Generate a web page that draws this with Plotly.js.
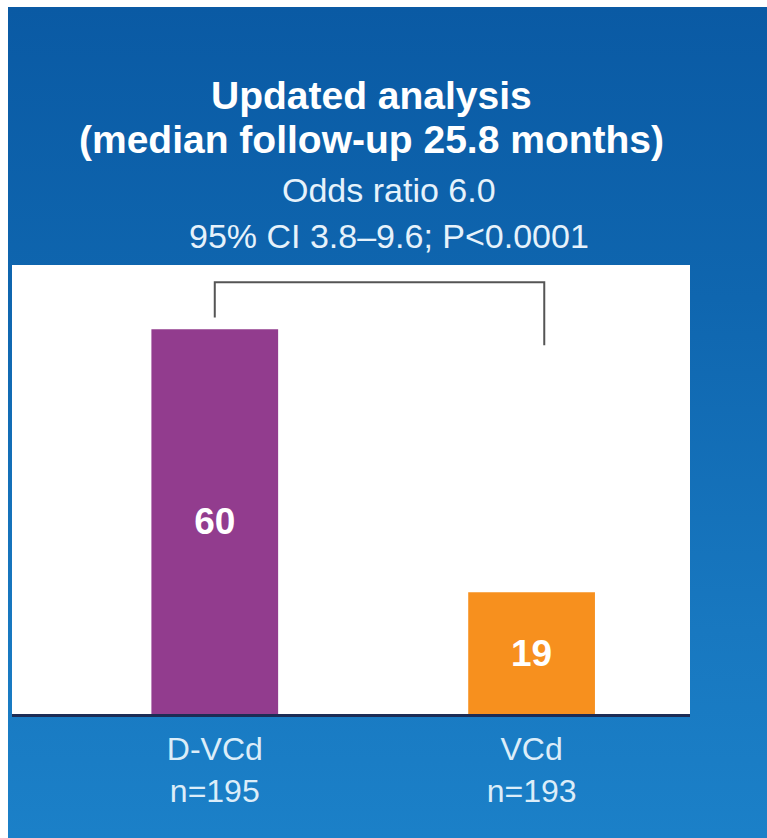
<!DOCTYPE html>
<html>
<head>
<meta charset="utf-8">
<script src="https://cdn.plot.ly/plotly-3.0.1.min.js"></script>
<style>
  html,body{margin:0;padding:0;background:#fff;}
  #chart{position:absolute;left:8px;top:7px;width:759px;height:831px;
    background:linear-gradient(180deg,#0a5aa4 0%,#0f66af 35%,#1878c0 75%,#1b80c8 100%);}
</style>
</head>
<body>
<div id="chart"></div>
<script>
// groups and response rates (%)
const groups=['D-VCd','VCd'];
const nPatients=[195,193];
const rates=[60,19];
const barColors=['#923c8e','#f7901e'];

// comparison bracket (drawn in data units)
const bracketX=[0,0,1.04,1.04];
const bracketY=[61.8,67.3,67.3,57.5];

const xPos=groups.map((g,i)=>i);
const tickText=groups.map((g,i)=>`${g}<br>n=${nPatients[i]}`);

const font="'Liberation Sans', Arial, sans-serif";

Plotly.newPlot('chart',[
  {type:'bar',x:xPos,y:rates,width:0.4,
   marker:{color:barColors,line:{width:0}},
   text:rates.map(String),textposition:'inside',insidetextanchor:'middle',
   constraintext:'none',
   textfont:{family:font,size:37,color:'#ffffff',weight:'bold'},
   hoverinfo:'none',showlegend:false},
  {type:'scatter',mode:'lines',x:bracketX,y:bracketY,
   line:{color:'#555555',width:2},hoverinfo:'none',showlegend:false}
],{
  width:759,height:831,
  margin:{l:4,r:77,t:258,b:124},
  paper_bgcolor:'rgba(0,0,0,0)',
  plot_bgcolor:'#ffffff',
  xaxis:{range:[-0.64,1.5],tickvals:xPos,ticktext:tickText,
    showgrid:false,zeroline:false,ticks:'',ticklabelstandoff:5,
    showline:true,linecolor:'#1c2c55',linewidth:3,
    tickfont:{family:font,size:32,color:'#dcedf9'}},
  yaxis:{range:[0,70],visible:false,showgrid:false,zeroline:false},
  annotations:[
    {text:'Updated analysis',xref:'paper',yref:'paper',x:0.53,y:1.3786,
     xanchor:'center',yanchor:'middle',showarrow:false,
     font:{family:font,size:39,color:'#ffffff',weight:'bold'}},
    {text:'(median follow-up 25.8 months)',xref:'paper',yref:'paper',x:0.53,y:1.2784,
     xanchor:'center',yanchor:'middle',showarrow:false,
     font:{family:font,size:39,color:'#ffffff',weight:'bold'}},
    {text:'Odds ratio 6.0',xref:'paper',yref:'paper',x:0.556,y:1.167,
     xanchor:'center',yanchor:'middle',showarrow:false,
     font:{family:font,size:34,color:'#e6f2fb'}},
    {text:'95% CI 3.8\u20139.6; P<0.0001',xref:'paper',yref:'paper',x:0.556,y:1.0646,
     xanchor:'center',yanchor:'middle',showarrow:false,
     font:{family:font,size:34,color:'#e6f2fb'}}
  ]
},{staticPlot:true,displayModeBar:false});
</script>
</body>
</html>
